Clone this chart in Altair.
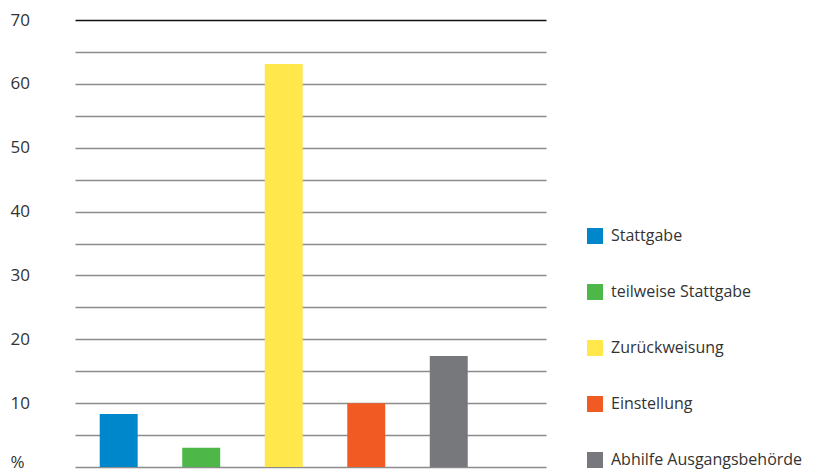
import altair as alt
import pandas as pd

categories = ["Stattgabe", "teilweise Stattgabe", "Zurückweisung", "Einstellung", "Abhilfe Ausgangsbehörde"]
values = [8.3, 3.0, 63.1, 10.0, 17.4]
colors = ["#0086CB", "#4DB848", "#FFE74C", "#F15A22", "#77787B"]
y_ticks = list(range(0, 75, 5))

df = pd.DataFrame({"cat": categories, "val": values})

chart = alt.Chart(df).mark_bar().encode(
    x=alt.X("cat:N", sort=categories, axis=None,
            scale=alt.Scale(paddingInner=0.54, paddingOuter=0.624, align=0.24)),
    y=alt.Y("val:Q", scale=alt.Scale(domain=[0, 70], nice=False),
            axis=alt.Axis(values=y_ticks, title=None, tickSize=0, domain=False,
                          labelAlign="left", labelPadding=65, labelFontSize=17,
                          labelFont="Open Sans", labelColor="#333333",
                          labelBaseline={"condition": {"test": "datum.value == 0", "value": "alphabetic"},
                                         "value": "middle"},
                          labelExpr="datum.value == 0 ? '%' : (datum.value % 10 == 0 ? datum.label : '')",
                          gridWidth=1.6,
                          gridColor={"condition": {"test": "datum.value == 70", "value": "#111111"},
                                     "value": "#8c8c8c"})),
    color=alt.Color("cat:N", sort=categories,
                    scale=alt.Scale(domain=categories, range=colors),
                    legend=alt.Legend(title=None, orient="none", legendX=512, legendY=208,
                                      symbolType="square", symbolSize=256, symbolStrokeWidth=0,
                                      symbolOpacity=1, labelFontSize=16, labelFont="Open Sans",
                                      labelColor="#333333", rowPadding=40, labelOffset=8,
                                      labelLimit=300)),
).properties(
    width=471, height=447,
    autosize=alt.AutoSizeParams(type="none"),
    padding={"left": 75, "top": 20, "right": 284, "bottom": 8},
).configure_view(stroke=None)

chart.save("out.html", embed_options={"renderer": "svg", "actions": False})
